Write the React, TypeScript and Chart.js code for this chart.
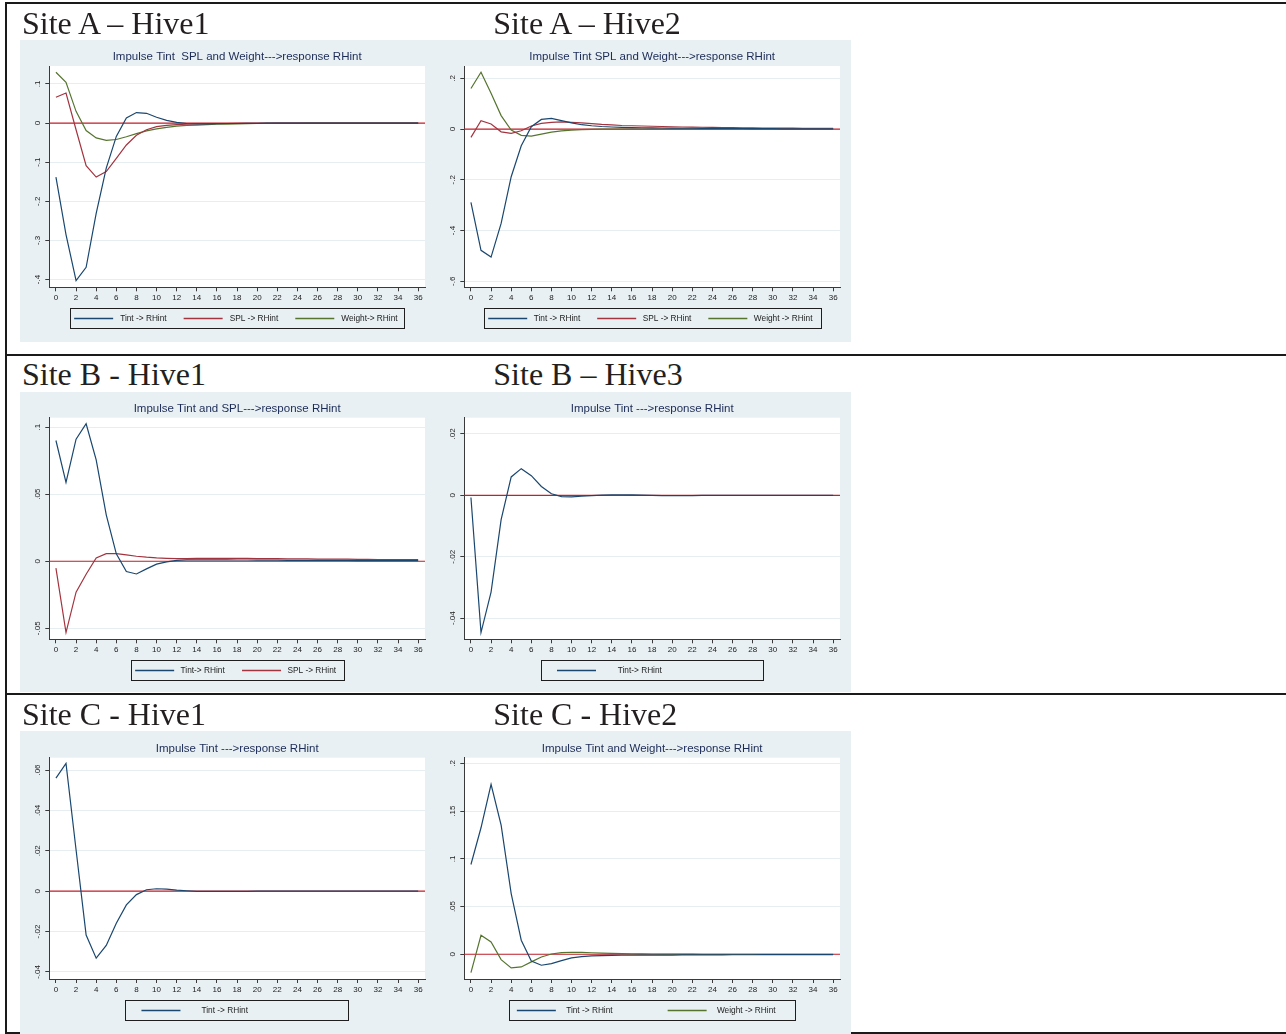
import React, { useEffect, useRef } from 'react';
import { Chart, registerables } from 'chart.js';

Chart.register(...registerables);

// ---------- data ----------
const horizons = [0, 1, 2, 3, 4, 5, 6, 7, 8, 9, 10, 11, 12, 13, 14, 15, 16, 17, 18, 19, 20, 21, 22, 23, 24, 25, 26, 27, 28, 29, 30, 31, 32, 33, 34, 35, 36];
const xTicks = [0, 2, 4, 6, 8, 10, 12, 14, 16, 18, 20, 22, 24, 26, 28, 30, 32, 34, 36];

const a1Tint = [-0.138, -0.285, -0.403, -0.369, -0.231, -0.115, -0.034, 0.013, 0.027, 0.025, 0.015, 0.007, 0.002, -0.001, -0.002, -0.002, -0.0015, -0.001, -0.001, -0.0005, -0.0005, -0.0003, -0.0002, -0.0001, 0, 0, 0, 0, 0, 0, 0, 0, 0, 0, 0, 0, 0];
const a1Spl = [0.066, 0.077, -0.017, -0.109, -0.138, -0.124, -0.09, -0.056, -0.031, -0.017, -0.009, -0.006, -0.004, -0.003, -0.002, -0.0015, -0.001, -0.001, -0.0008, -0.0006, -0.0005, -0.0004, -0.0003, -0.0002, -0.0002, -0.0001, -0.0001, 0, 0, 0, 0, 0, 0, 0, 0, 0, 0];
const a1Weight = [0.13, 0.104, 0.03, -0.019, -0.038, -0.044, -0.042, -0.035, -0.027, -0.02, -0.015, -0.011, -0.008, -0.006, -0.005, -0.004, -0.003, -0.0025, -0.002, -0.0015, -0.001, -0.0008, -0.0006, -0.0005, -0.0004, -0.0003, -0.0002, -0.0002, -0.0001, -0.0001, 0, 0, 0, 0, 0, 0, 0];

const a2Tint = [-0.289, -0.478, -0.505, -0.372, -0.188, -0.066, 0.009, 0.038, 0.042, 0.033, 0.024, 0.017, 0.013, 0.01, 0.008, 0.0065, 0.0055, 0.005, 0.0045, 0.004, 0.0035, 0.003, 0.003, 0.0025, 0.0025, 0.002, 0.002, 0.002, 0.0015, 0.0015, 0.0015, 0.001, 0.001, 0.001, 0.001, 0.001, 0.001];
const a2Spl = [-0.033, 0.033, 0.02, -0.011, -0.017, -0.007, 0.012, 0.022, 0.026, 0.028, 0.026, 0.024, 0.021, 0.018, 0.016, 0.014, 0.013, 0.012, 0.011, 0.01, 0.009, 0.008, 0.0075, 0.007, 0.0065, 0.006, 0.0055, 0.005, 0.0045, 0.004, 0.004, 0.0035, 0.0035, 0.003, 0.003, 0.003, 0.003];
const a2Weight = [0.16, 0.224, 0.141, 0.053, -0.004, -0.025, -0.028, -0.02, -0.012, -0.007, -0.004, -0.002, -0.001, -0.0005, -0.0002, 0, 0, 0, 0, 0, 0, 0, 0, 0, 0, 0, 0, 0, 0, 0, 0, 0, 0, 0, 0, 0, 0];

const b1Tint = [0.09, 0.0587, 0.091, 0.1025, 0.0756, 0.0346, 0.0055, -0.0077, -0.0095, -0.0057, -0.0022, -0.0005, 0.0007, 0.001, 0.001, 0.001, 0.001, 0.001, 0.0009, 0.0009, 0.0008, 0.0008, 0.0008, 0.0007, 0.0007, 0.0007, 0.0006, 0.0006, 0.0006, 0.0006, 0.0005, 0.0005, 0.0005, 0.0005, 0.0005, 0.0005, 0.0005];
const b1Spl = [-0.0052, -0.0532, -0.0231, -0.0097, 0.0025, 0.0057, 0.0057, 0.0047, 0.0037, 0.003, 0.0025, 0.0022, 0.002, 0.002, 0.0021, 0.0022, 0.0022, 0.0022, 0.0022, 0.0021, 0.002, 0.002, 0.0019, 0.0018, 0.0018, 0.0017, 0.0016, 0.0016, 0.0015, 0.0015, 0.0014, 0.0014, 0.0013, 0.0013, 0.0012, 0.0012, 0.0012];

const b2Tint = [-0.0007, -0.0447, -0.0315, -0.0079, 0.006, 0.0087, 0.0064, 0.0029, 0.0005, -0.0004, -0.0005, -0.0003, -0.0001, 0.0001, 0.0002, 0.0002, 0.00015, 0.0001, 0, -0.0001, -0.0001, -0.0001, -0.0001, 0, 0, 0, 0, 0, 0, 0, 0, 0, 0, 0, 0, 0, 0];

const c1Tint = [0.056, 0.0633, 0.0205, -0.0217, -0.0332, -0.0269, -0.0159, -0.0068, -0.0017, 0.0007, 0.0012, 0.001, 0.0005, 0.0002, -0.0001, -0.0001, -0.0001, -0.0001, -0.0001, -0.0001, 0, 0, 0, 0, 0, 0, 0, 0, 0, 0, 0, 0, 0, 0, 0, 0, 0];

const c2Tint = [0.094, 0.1325, 0.178, 0.1353, 0.0636, 0.0147, -0.007, -0.0115, -0.0098, -0.0066, -0.0038, -0.0024, -0.0017, -0.0014, -0.0012, -0.001, -0.001, -0.0009, -0.0009, -0.0008, -0.0008, -0.0007, -0.0007, -0.0006, -0.0006, -0.0006, -0.0005, -0.0005, -0.0005, -0.0004, -0.0004, -0.0004, -0.0004, -0.0003, -0.0003, -0.0003, -0.0003];
const c2Weight = [-0.0192, 0.0199, 0.0129, -0.0056, -0.0143, -0.0133, -0.008, -0.0028, 0.0003, 0.0017, 0.0021, 0.0019, 0.0016, 0.0012, 0.001, 0.0007, 0.0005, 0.0004, 0.0003, 0.0002, 0.0002, 0.0001, 0.0001, 0, 0, 0, 0, 0, 0, 0, 0, 0, 0, 0, 0, 0, 0];

const yTicksA1 = [-0.4, -0.3, -0.2, -0.1, 0, 0.1];
const yTicksA2 = [-0.6, -0.4, -0.2, 0, 0.2];
const yTicksB1 = [-0.05, 0, 0.05, 0.1];
const yTicksB2 = [-0.04, -0.02, 0, 0.02];
const yTicksC1 = [-0.04, -0.02, 0, 0.02, 0.04, 0.06];
const yTicksC2 = [0, 0.05, 0.1, 0.15, 0.2];

// ---------- styles ----------
const SANS = '"Liberation Sans", Arial, Helvetica, sans-serif';
const SERIF = '"Liberation Serif", "Times New Roman", serif';
const PANEL_BG = '#e8f0f3';
const GRID = '#e6eef1';
const AXIS = '#3a3a3a';
const TEXT = '#222222';
const TITLE = '#1c2b57';
const ZERO = '#c4202a';
const C_TINT = '#1a476f';
const C_SPL = '#a3343f';
const C_WEIGHT = '#55752f';
const TICK_FONT = 8;
const X_MIN = -0.66;
const X_MAX = 36.68;

type Series = { label: string; data: number[]; color: string };
type LegendCfg = { boxW: number; padLeft: number; keyGap: number; colGap: number };
type Panel = {
  id: string;
  left: number; top: number; width: number; height: number;
  plotLeft: number; plotRight: number; plotTop: number; plotBottom: number;
  title: string;
  series: Series[];
  yTicks: number[]; yMin: number; yMax: number;
  legend: LegendCfg;
};

const rowA = { top: 40, height: 302, plotTop: 26, plotBottom: 247.3 };
const rowB = { top: 392, height: 300, plotTop: 25.7, plotBottom: 247.3 };
const rowC = { top: 731, height: 303, plotTop: 26.7, plotBottom: 248 };
const col1 = { left: 20, width: 412, plotLeft: 29.3, plotRight: 405 };
const col2 = { left: 432, width: 419, plotLeft: 32.3, plotRight: 408 };

const panels: Panel[] = [
  {
    id: 'a1', ...rowA, ...col1,
    title: 'Impulse Tint  SPL and Weight--->response RHint',
    series: [
      { label: 'Tint -> RHint', data: a1Tint, color: C_TINT },
      { label: 'SPL -> RHint', data: a1Spl, color: C_SPL },
      { label: 'Weight-> RHint', data: a1Weight, color: C_WEIGHT },
    ],
    yTicks: yTicksA1, yMin: -0.42, yMax: 0.146,
    legend: { boxW: 334, padLeft: 4, keyGap: 7, colGap: 17 },
  },
  {
    id: 'a2', ...rowA, ...col2,
    title: 'Impulse Tint SPL and Weight--->response RHint',
    series: [
      { label: 'Tint -> RHint', data: a2Tint, color: C_TINT },
      { label: 'SPL -> RHint', data: a2Spl, color: C_SPL },
      { label: 'Weight -> RHint', data: a2Weight, color: C_WEIGHT },
    ],
    yTicks: yTicksA2, yMin: -0.624, yMax: 0.2485,
    legend: { boxW: 336.7, padLeft: 4.4, keyGap: 6.5, colGap: 17 },
  },
  {
    id: 'b1', ...rowB, ...col1,
    title: 'Impulse Tint and SPL--->response RHint',
    series: [
      { label: 'Tint-> RHint', data: b1Tint, color: C_TINT },
      { label: 'SPL -> RHint', data: b1Spl, color: C_SPL },
    ],
    yTicks: yTicksB1, yMin: -0.0582, yMax: 0.107,
    legend: { boxW: 212.6, padLeft: 4.3, keyGap: 6.4, colGap: 17.3 },
  },
  {
    id: 'b2', ...rowB, ...col2,
    title: 'Impulse Tint --->response RHint',
    series: [{ label: 'Tint-> RHint', data: b2Tint, color: C_TINT }],
    yTicks: yTicksB2, yMin: -0.0469, yMax: 0.0253,
    legend: { boxW: 221.7, padLeft: 15.7, keyGap: 21.7, colGap: 17 },
  },
  {
    id: 'c1', ...rowC, ...col1,
    title: 'Impulse Tint --->response RHint',
    series: [{ label: 'Tint -> RHint', data: c1Tint, color: C_TINT }],
    yTicks: yTicksC1, yMin: -0.0435, yMax: 0.0661,
    legend: { boxW: 223.4, padLeft: 16, keyGap: 21, colGap: 17 },
  },
  {
    id: 'c2', ...rowC, ...col2,
    title: 'Impulse Tint and Weight--->response RHint',
    series: [
      { label: 'Tint -> RHint', data: c2Tint, color: C_TINT },
      { label: 'Weight -> RHint', data: c2Weight, color: C_WEIGHT },
    ],
    yTicks: yTicksC2, yMin: -0.0259, yMax: 0.2059,
    legend: { boxW: 286, padLeft: 7.7, keyGap: 10.3, colGap: 55 },
  },
];

const headings = [
  { text: 'Site A \u2013 Hive1', left: 22, baseline: 33.3 },
  { text: 'Site A \u2013 Hive2', left: 493.3, baseline: 33.3 },
  { text: 'Site B - Hive1', left: 22, baseline: 384.3 },
  { text: 'Site B \u2013 Hive3', left: 493.3, baseline: 384.3 },
  { text: 'Site C - Hive1', left: 22, baseline: 724.3 },
  { text: 'Site C - Hive2', left: 493.3, baseline: 724.3 },
];

const stataLabel = (v: number) =>
  v === 0 ? '0' : String(+v.toFixed(4)).replace(/^(-?)0\./, '$1.');

function decorPlugin(p: Panel) {
  return {
    id: 'stataDecor',
    beforeDraw(chart: any) {
      const { ctx, chartArea: a, width, height } = chart;
      ctx.save();
      ctx.fillStyle = PANEL_BG;
      ctx.fillRect(0, 0, width, height);
      ctx.fillStyle = '#ffffff';
      ctx.fillRect(a.left, a.top, a.right - a.left, a.bottom - a.top);
      ctx.restore();
    },
    beforeDatasetsDraw(chart: any) {
      const { ctx, chartArea: a } = chart;
      const y0 = chart.scales.y.getPixelForValue(0);
      ctx.save();
      ctx.strokeStyle = ZERO;
      ctx.lineWidth = 1.2;
      ctx.beginPath();
      ctx.moveTo(a.left, y0);
      ctx.lineTo(a.right, y0);
      ctx.stroke();
      ctx.restore();
    },
    afterDraw(chart: any) {
      const { ctx, chartArea: a } = chart;
      const cx = (a.left + a.right) / 2;
      ctx.save();
      // title
      ctx.fillStyle = TITLE;
      ctx.font = `11.5px ${SANS}`;
      ctx.textAlign = 'center';
      ctx.textBaseline = 'middle';
      ctx.fillText(p.title, cx, a.top - 9);
      // legend
      const lg = p.legend;
      const boxTop = a.bottom + 21;
      const boxH = 19.5;
      const boxLeft = cx - lg.boxW / 2;
      ctx.strokeStyle = '#1e1e1e';
      ctx.lineWidth = 1;
      ctx.strokeRect(Math.round(boxLeft) + 0.5, Math.round(boxTop) + 0.5, Math.round(lg.boxW), Math.round(boxH));
      ctx.font = `8.3px ${SANS}`;
      ctx.textAlign = 'left';
      ctx.textBaseline = 'middle';
      const midY = Math.round(boxTop + boxH / 2) + 0.5;
      let x = boxLeft + lg.padLeft;
      chart.data.datasets.forEach((ds: any) => {
        ctx.strokeStyle = ds.borderColor;
        ctx.lineWidth = 1.4;
        ctx.beginPath();
        ctx.moveTo(x, midY);
        ctx.lineTo(x + 39, midY);
        ctx.stroke();
        ctx.fillStyle = TEXT;
        const tx = x + 39 + lg.keyGap;
        ctx.fillText(ds.label, tx, midY);
        x = tx + ctx.measureText(ds.label).width + lg.colGap;
      });
      ctx.restore();
    },
  };
}

function PanelChart({ p }: { p: Panel }) {
  const ref = useRef<HTMLCanvasElement>(null);
  useEffect(() => {
    const canvas = ref.current;
    if (!canvas) return;
    const meas = document.createElement('canvas').getContext('2d')!;
    meas.font = `${TICK_FONT}px ${SANS}`;
    const widest = Math.max(...p.yTicks.map((v) => meas.measureText(stataLabel(v)).width));
    const yPad = 11.3 - 4 - widest / 2;
    const chart = new Chart(canvas, {
      type: 'line',
      data: {
        datasets: p.series.map((s) => ({
          label: s.label,
          data: horizons.map((h, i) => ({ x: h, y: s.data[i] })),
          borderColor: s.color,
          backgroundColor: s.color,
          borderWidth: 1.2,
          pointRadius: 0,
          tension: 0,
          fill: false,
        })),
      },
      options: {
        animation: false,
        responsive: false,
        devicePixelRatio: 1,
        layout: { padding: { left: 0, top: p.plotTop, right: p.width - p.plotRight, bottom: 0 } },
        plugins: {
          legend: { display: false },
          title: { display: false },
          tooltip: { enabled: false },
        },
        scales: {
          x: {
            type: 'linear',
            min: X_MIN,
            max: X_MAX,
            afterBuildTicks: (s: any) => {
              s.ticks = xTicks.map((v) => ({ value: v }));
            },
            afterFit: (s: any) => {
              s.height = p.height - p.plotBottom;
            },
            ticks: {
              font: { family: SANS, size: TICK_FONT },
              color: TEXT,
              padding: 1.6,
              maxRotation: 0,
              minRotation: 0,
              autoSkip: false,
              callback: (v: any) => String(v),
            },
            grid: { drawOnChartArea: false, drawTicks: true, tickLength: 4, tickColor: AXIS, tickWidth: 1 },
            border: { display: true, color: AXIS, width: 1 },
          },
          y: {
            type: 'linear',
            min: p.yMin,
            max: p.yMax,
            afterBuildTicks: (s: any) => {
              s.ticks = p.yTicks.map((v) => ({ value: v }));
            },
            afterFit: (s: any) => {
              s.width = p.plotLeft;
            },
            ticks: {
              font: { family: SANS, size: TICK_FONT },
              color: TEXT,
              padding: yPad,
              minRotation: 90,
              maxRotation: 90,
              crossAlign: 'center',
              autoSkip: false,
              callback: (v: any) => stataLabel(Number(v)),
            },
            grid: { color: GRID, lineWidth: 1, drawTicks: true, tickLength: 4, tickColor: AXIS, tickWidth: 1 },
            border: { display: true, color: AXIS, width: 1 },
          },
        },
      } as any,
      plugins: [decorPlugin(p)],
    });
    return () => chart.destroy();
  }, [p]);
  return (
    <canvas
      ref={ref}
      width={p.width}
      height={p.height}
      style={{ position: 'absolute', left: p.left, top: p.top, width: p.width, height: p.height, display: 'block', zIndex: 2 }}
    />
  );
}

const line = (left: number, top: number, width: number, height: number): React.CSSProperties => ({
  position: 'absolute', left, top, width, height, background: '#1a1a1a', zIndex: 1,
});

export default function App() {
  return (
    <div style={{ position: 'absolute', left: 0, top: 0, width: 1286, height: 1034, background: '#ffffff', overflow: 'hidden' }}>
      <div style={line(5, 2, 1281, 2)} />
      <div style={line(5, 2, 2, 1032)} />
      <div style={line(5, 354, 1281, 2)} />
      <div style={line(5, 693, 1281, 2)} />
      <div style={line(5, 1032, 1281, 2)} />
      {headings.map((h) => (
        <div
          key={h.text + h.left}
          style={{
            position: 'absolute', left: h.left, top: h.baseline - 26.8, fontFamily: SERIF, fontSize: 32,
            lineHeight: '32px', color: '#231f20', whiteSpace: 'pre', zIndex: 3,
          }}
        >
          {h.text}
        </div>
      ))}
      {panels.map((p) => (
        <PanelChart key={p.id} p={p} />
      ))}
    </div>
  );
}
